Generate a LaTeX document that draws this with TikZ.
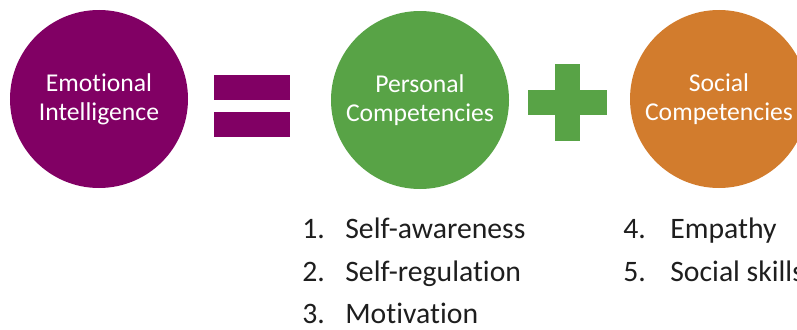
\documentclass[tikz,border=0pt]{standalone}
\usepackage{fontspec}
\setmainfont{Carlito}[Ligatures=NoCommon]
\usetikzlibrary{positioning}
\definecolor{cpurple}{HTML}{810064}
\definecolor{cgreen}{HTML}{58A346}
\definecolor{corange}{HTML}{D27C2D}
\definecolor{ctext}{HTML}{1E1E1E}
\tikzset{
  every picture/.style={font=\fontsize{14.6}{16.6}\selectfont},
  ball/.style={circle, fill=#1, text=white, align=center, minimum size=3.56cm, inner sep=0pt},
  ball/.default=cpurple,
  bar/.style={fill=#1, inner sep=0pt},
  num/.style={anchor=base west, text=ctext, font=\fontsize{16.9}{19}\selectfont, inner sep=0pt},
  item/.style={num},
}

\begin{document}
\begin{tikzpicture}
  \clip (0,0) rectangle (15.94,-6.58);
  % the three circles
  \node[ball=cpurple] (ei) at (1.98,-1.98) {Emotional\\Intelligence};
  \node[ball=cgreen] (pc) at (8.4,-2.0) {Personal\\Competencies};
  \node[ball=corange] (sc) at (14.38,-1.98) {Social\\Competencies};
  % equals sign
  \node[bar=cpurple, minimum width=1.52cm, minimum height=0.5cm] (eqtop) at (5.04,-1.75) {};
  \node[bar=cpurple, minimum width=1.52cm, minimum height=0.5cm] (eqbot) at (5.04,-2.49) {};
  % plus sign
  \node[bar=cgreen, minimum width=0.5cm, minimum height=1.54cm] (plusv) at (11.35,-2.05) {};
  \node[bar=cgreen, minimum width=1.58cm, minimum height=0.5cm] (plush) at (11.35,-2.05) {};
  % personal competencies list
  \node[num] (n1) at (6.04,-4.76) {1.};
  \node[item] (i1) at (6.9,-4.76) {Self-awareness};
  \node[num] (n2) at (6.04,-5.62) {2.};
  \node[item] (i2) at (6.9,-5.62) {Self-regulation};
  \node[num] (n3) at (6.04,-6.46) {3.};
  \node[item] (i3) at (6.9,-6.46) {Motivation};
  % social competencies list
  \node[num] (n4) at (12.46,-4.76) {4.};
  \node[item] (i4) at (13.4,-4.76) {Empathy};
  \node[num] (n5) at (12.46,-5.62) {5.};
  \node[item] (i5) at (13.4,-5.62) {Social skills};
\end{tikzpicture}
\end{document}
